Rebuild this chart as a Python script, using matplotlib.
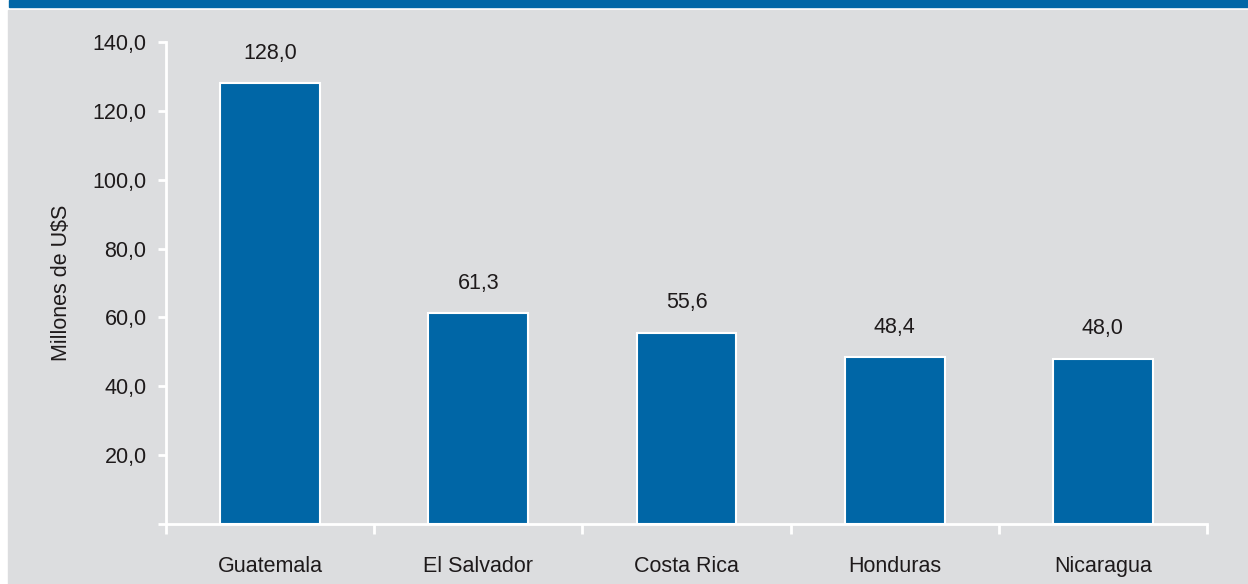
import matplotlib.pyplot as plt
from matplotlib.patches import Rectangle
from matplotlib.ticker import FixedLocator, FuncFormatter

# Montos por país (millones de U$S)
paises = ['Guatemala', 'El Salvador', 'Costa Rica', 'Honduras', 'Nicaragua']
montos = [128.0, 61.3, 55.6, 48.4, 48.0]
y_ticks = [0, 20, 40, 60, 80, 100, 120, 140]

azul = '#0066a6'
gris = '#dcdddf'
texto = '#1e1a1b'

plt.rcParams['font.family'] = ['Liberation Sans', 'DejaVu Sans']

fig = plt.figure(figsize=(12.48, 5.84), dpi=100)
fig.patch.set_facecolor('white')

# fondo gris y banda azul superior
fig.add_artist(Rectangle((8 / 1248, 0), 1 - 8 / 1248, 1 - 10 / 584,
                         transform=fig.transFigure, color=gris, zorder=0))
fig.add_artist(Rectangle((9 / 1248, 1 - 7 / 584), 1 - 9 / 1248, 7 / 584,
                         transform=fig.transFigure, color=azul, zorder=0))

ax = fig.add_axes([166 / 1248, 1 - 524 / 584, (1207 - 166) / 1248, (524 - 42) / 584])
ax.set_facecolor('none')

x = range(len(paises))
bars = ax.bar(x, montos, width=0.48, color=azul, edgecolor='white', linewidth=1.5, zorder=3)

for xi, v in zip(x, montos):
    ax.annotate(f'{v:.1f}'.replace('.', ','), (xi, v), xytext=(0, 14),
                textcoords='offset points', ha='center', va='bottom',
                fontsize=15.5, color=texto)

ax.set_xlim(-0.5, len(paises) - 0.5)
ax.set_ylim(0, 140)

for side in ['top', 'right']:
    ax.spines[side].set_visible(False)
for side in ['left', 'bottom']:
    ax.spines[side].set_color('white')
    ax.spines[side].set_linewidth(2)

ax.yaxis.set_major_locator(FixedLocator(y_ticks))
ax.yaxis.set_major_formatter(FuncFormatter(
    lambda v, p: '' if v == 0 else f'{v:.1f}'.replace('.', ',')))
ax.tick_params(axis='y', direction='out', length=6, width=2, color='white',
               pad=8, labelsize=15.5, labelcolor=texto)

ax.set_xticks(list(x))
ax.set_xticklabels(paises)
ax.set_xticks([i - 0.5 for i in range(len(paises) + 1)], minor=True)
ax.tick_params(axis='x', which='major', length=0, pad=23, labelsize=15.5, labelcolor=texto)
ax.tick_params(axis='x', which='minor', direction='out', length=7, width=2, color='white')

ax.set_ylabel('Millones de U$S', fontsize=15.5, color=texto, labelpad=15)

fig.savefig('out.png', dpi=100)
